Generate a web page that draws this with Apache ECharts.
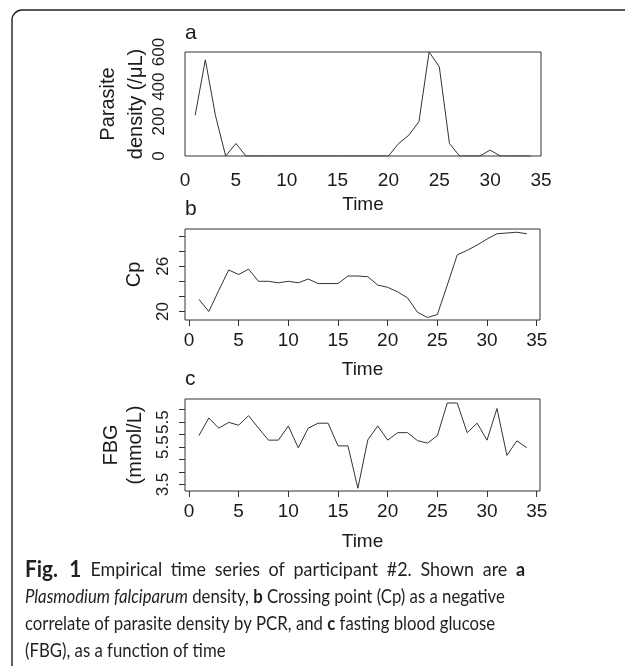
<!DOCTYPE html>
<html><head><meta charset="utf-8">
<script src="https://cdn.jsdelivr.net/npm/echarts@6/dist/echarts.min.js"></script>
<style>html,body{margin:0;padding:0;background:#fff}#c{width:625px;height:666px}</style>
</head><body><div id="c"></div>
<script>
// ---- data ----
const time = [1,2,3,4,5,6,7,8,9,10,11,12,13,14,15,16,17,18,19,20,21,22,23,24,25,26,27,28,29,30,31,32,33,34];
const parasite = [235,555,232,0,72,0,0,0,0,0,0,0,0,0,0,0,0,0,0,0,72,120,198,600,515,72,0,0,0,34,0,0,0,0];
const cp = [21.6,20.0,22.8,25.5,24.9,25.6,24.0,24.0,23.8,24.0,23.8,24.3,23.7,23.7,23.7,24.7,24.7,24.6,23.5,23.2,22.6,21.8,19.9,19.2,19.6,23.5,27.5,28.1,28.8,29.6,30.3,30.4,30.5,30.3];
const fbg = [5.46,6.17,5.76,5.99,5.88,6.26,5.76,5.28,5.28,5.85,4.97,5.76,5.96,5.96,5.05,5.05,3.35,5.29,5.85,5.28,5.58,5.58,5.26,5.16,5.46,6.77,6.77,5.58,5.96,5.28,6.55,4.67,5.25,4.98];
const xTicks = [0,5,10,15,20,25,30,35];
const parasiteTicks = [0,200,400,600];
const cpTicks = [20,22,24,26,28,30];
const cpLabelValues = [20,26];
const fbgTicks = [3.5,4,4.5,5,5.5,6,6.5];
const fbgLabelValues = [3.5,5,6];
const fbgLabelText = ['3.5','5.5','5.5'];
const panelLetters = ['a','b','c'];
const yNames = ['Parasite\ndensity (/\u03bcL)','Cp','FBG\n(mmol/L)'];
const xName = 'Time';

const FONT = "'Liberation Sans', Arial, sans-serif";
const INK = '#1a1a1a';
const LINE = '#333';

const chart = echarts.init(document.getElementById('c'), null, {renderer:'canvas'});

const grids = [
  {left:185, top:52, width:356, height:104},
  {left:185, top:229, width:355, height:91},
  {left:185, top:399, width:355, height:92}
].map(g => Object.assign(g, {show:true, borderColor:LINE, borderWidth:1, backgroundColor:'transparent'}));

const xl = {fontSize:19, color:INK, fontFamily:FONT};
const yl = {fontSize:17, color:INK, fontFamily:FONT};
const xNameStyle = {fontSize:19, color:INK, fontFamily:FONT};
const yNameStyle = (lh) => ({fontSize:20, color:INK, fontFamily:FONT, lineHeight:lh});

const xAxes = [
  {gridIndex:0, type:'value', min:0, max:35, interval:5,
   axisLine:{show:false}, axisTick:{show:false}, splitLine:{show:false},
   axisLabel:Object.assign({margin:15, showMinLabel:true, showMaxLabel:true}, xl),
   name:xName, nameLocation:'middle', nameGap:39, nameMoveOverlap:false, nameTextStyle:xNameStyle},
  {gridIndex:1, type:'value', min:-0.4, max:35.33,
   axisLine:{show:false, onZero:false}, splitLine:{show:false},
   axisTick:{show:true, customValues:xTicks, length:6, lineStyle:{color:LINE}},
   axisLabel:Object.assign({customValues:xTicks, margin:11}, xl),
   name:xName, nameLocation:'middle', nameGap:40, nameMoveOverlap:false, nameTextStyle:xNameStyle},
  {gridIndex:2, type:'value', min:-0.4, max:35.33,
   axisLine:{show:false, onZero:false}, splitLine:{show:false},
   axisTick:{show:true, customValues:xTicks, length:6, lineStyle:{color:LINE}},
   axisLabel:Object.assign({customValues:xTicks, margin:11}, xl),
   name:xName, nameLocation:'middle', nameGap:41, nameMoveOverlap:false, nameTextStyle:xNameStyle}
];

const yAxes = [
  {gridIndex:0, type:'value', min:0, max:600, interval:200,
   axisLine:{show:false, onZero:false}, axisTick:{show:false}, splitLine:{show:false},
   axisLabel:Object.assign({rotate:90, margin:17, showMinLabel:true, showMaxLabel:true}, yl),
   name:yNames[0], nameLocation:'middle', nameRotate:90, nameGap:35, nameMoveOverlap:false, nameTextStyle:yNameStyle(28)},
  {gridIndex:1, type:'value', min:18.87, max:30.93,
   axisLine:{show:false, onZero:false}, splitLine:{show:false},
   axisTick:{show:true, customValues:cpTicks, length:6, lineStyle:{color:LINE}},
   axisLabel:Object.assign({rotate:90, margin:13, customValues:cpLabelValues}, yl),
   name:yNames[1], nameLocation:'middle', nameRotate:90, nameGap:39, nameMoveOverlap:false, nameTextStyle:yNameStyle(24)},
  {gridIndex:2, type:'value', min:3.24, max:6.93,
   axisLine:{show:false, onZero:false}, splitLine:{show:false},
   axisTick:{show:true, customValues:fbgTicks, length:6, lineStyle:{color:LINE}},
   axisLabel:Object.assign({rotate:90, margin:13, customValues:fbgLabelValues,
     formatter: v => { const i = fbgLabelValues.indexOf(v); return i >= 0 ? fbgLabelText[i] : ''; }}, yl),
   name:yNames[2], nameLocation:'middle', nameRotate:90, nameGap:38, nameMoveOverlap:false, nameTextStyle:yNameStyle(24)}
];

const mk = (arr, i) => ({
  type:'line', xAxisIndex:i, yAxisIndex:i, data: time.map((t,k)=>[t, arr[k]]),
  showSymbol:false, symbol:'none', lineStyle:{color:LINE, width:1}, animation:false, silent:true
});

const titles = panelLetters.map((t,i) => ({text:t, left:185, top:[23,199,369][i],
  textStyle:{fontSize:21, fontWeight:'normal', color:INK, fontFamily:FONT}, padding:0}));

// caption
const capFont = "'Liberation Sans Narrow', Lato, sans-serif";
const capSize = 19;
const CAPINK = '#231f20';
const LH = 26.7;
const capLines = [
  '{f|Fig.}{g|1}  Empirical time series of participant #2. Shown are {b|a}',
  '{i|Plasmodium falciparum} density, {b|b} Crossing point (Cp) as a negative',
  'correlate of parasite density by PCR, and {b|c} fasting blood glucose',
  '(FBG), as a function of time'
];
const capStyles = {
  '':  {font:`${capSize}px ${capFont}`, pad:0},
  b:   {font:`bold ${capSize}px ${capFont}`, pad:0},
  i:   {font:`italic ${capSize}px ${capFont}`, pad:0},
  f:   {font:`bold 22px ${capFont}`, pad:0},
  g:   {font:`bold 22px ${capFont}`, pad:12}
};
const cv = document.createElement('canvas').getContext('2d');
function richWidth(s){
  let w = 0; const re = /\{(\w+)\|([^}]*)\}|([^{]+)/g; let m;
  while ((m = re.exec(s))){
    const st = m[1] ? capStyles[m[1]] : capStyles[''];
    const t = m[1] ? m[2] : m[3];
    cv.font = st.font; w += cv.measureText(t).width + st.pad;
  }
  return w;
}
// common horizontal scale, from the two full body lines
const S = ((508-25)/richWidth(capLines[1]) + (492-25)/richWidth(capLines[2])) / 2;
// line 1 (justified to x = 525): a slightly wider scale plus extra word spacing
const S1 = S * 1.07;
const l1Body = 'Empirical time series of participant #2. Shown are';
const l1Spaces = l1Body.split(' ').length;
const extra = Math.max(0, ((525-25)/S1 - richWidth(capLines[0])) / l1Spaces);
const line1 = '{f|Fig.}{g|1}  ' + l1Body.split(' ').join('{s| }') + '{s| }{b|a}';
const capRich = {
  b:{fontWeight:'bold', fontSize:capSize, fontFamily:capFont, fill:CAPINK, lineHeight:LH},
  i:{fontStyle:'italic', fontSize:capSize, fontFamily:capFont, fill:CAPINK, lineHeight:LH},
  f:{fontWeight:'bold', fontSize:22, fontFamily:capFont, fill:CAPINK, lineHeight:LH},
  g:{fontWeight:'bold', fontSize:22, fontFamily:capFont, fill:CAPINK, lineHeight:LH, padding:[0,0,0,12]},
  s:{fontSize:capSize, fontFamily:capFont, fill:CAPINK, lineHeight:LH, padding:[0,extra,0,0]}
};
const capBase = {fill:CAPINK, font:`${capSize}px ${capFont}`, lineHeight:LH, rich:capRich};

const frameStyle = {stroke:'#222', lineWidth:1.4, fill:null};

chart.setOption({
  animation:false,
  backgroundColor:'#fff',
  title:titles,
  grid:grids,
  xAxis:xAxes,
  yAxis:yAxes,
  series:[mk(parasite,0), mk(cp,1), mk(fbg,2)],
  graphic:[
    {type:'line', shape:{x1:12, y1:20, x2:12, y2:666}, style:frameStyle, silent:true},
    {type:'line', shape:{x1:22, y1:10, x2:625, y2:10}, style:frameStyle, silent:true},
    {type:'arc', shape:{cx:22, cy:20, r:10, startAngle:Math.PI, endAngle:1.5*Math.PI}, style:frameStyle, silent:true},
    {type:'text', x:25, y:557, scaleX:S1, silent:true,
     style:Object.assign({text:line1}, capBase)},
    {type:'text', x:25, y:557 + LH, scaleX:S, silent:true,
     style:Object.assign({text:capLines.slice(1).join('\n')}, capBase)}
  ]
});
</script></body></html>
